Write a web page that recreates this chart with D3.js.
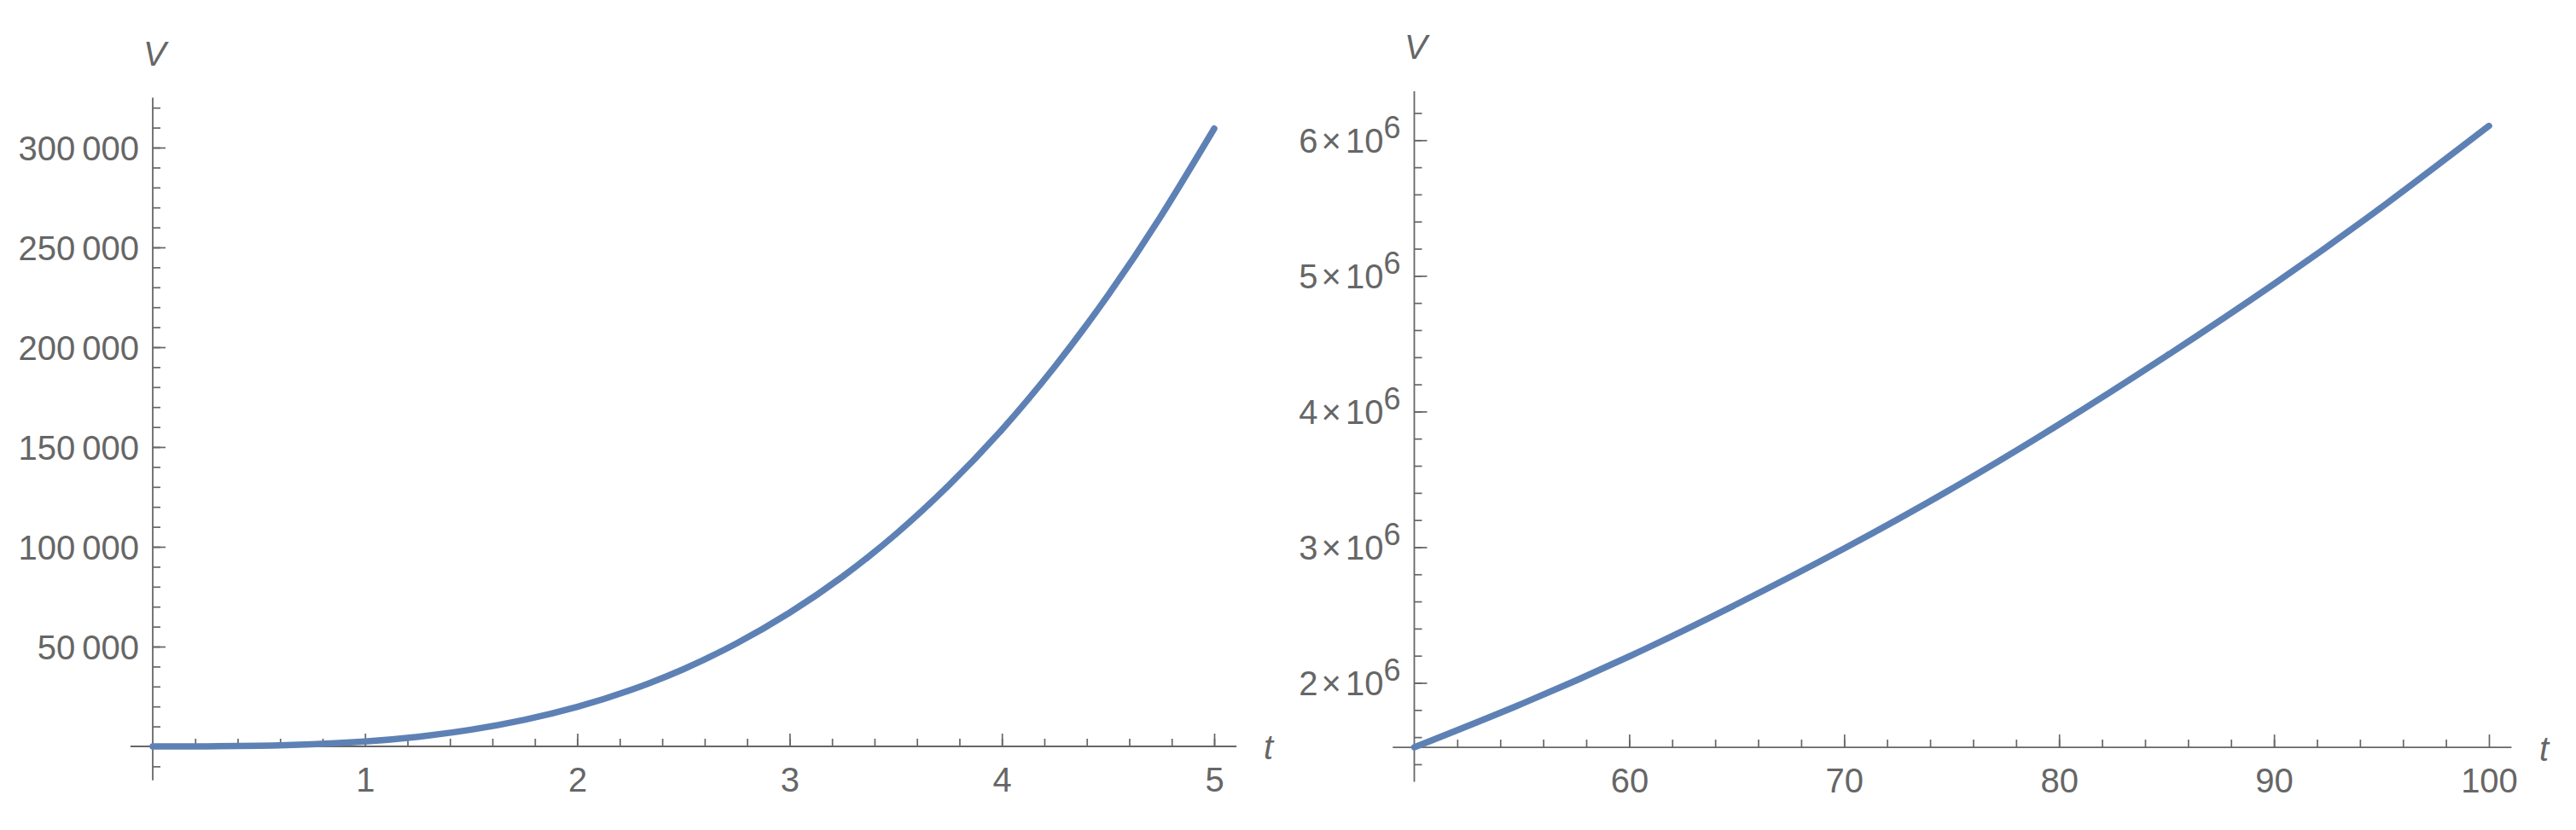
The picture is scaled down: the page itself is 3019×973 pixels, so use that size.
<!DOCTYPE html>
<html>
<head>
<meta charset="utf-8">
<script src="https://cdn.jsdelivr.net/npm/d3@7"></script>
<style>
  body { margin: 0; background: #ffffff; }
  text { font-family: "Liberation Sans", Arial, sans-serif; fill: #666666; }
</style>
</head>
<body>
<div class="chart"></div>
<script>
	// data: left panel (t from 0 to 5)
	var leftT = [0, 0.25, 0.5, 0.75, 1, 1.25, 1.5, 1.75, 2, 2.25, 2.5, 2.75, 3, 3.25, 3.5, 3.75, 4, 4.25, 4.5, 4.75, 5];
	var leftV = [0, 40, 310, 1050, 2480, 4840, 8370, 13300, 19800, 28200, 38700, 51600, 67000, 85100, 106300, 130800, 158700, 190400, 226000, 265800, 309500];

	// right panel (t from 50 to 100)
	var rightT = [50, 55, 60, 65, 70, 75, 80, 85, 90, 95, 100];
	var rightV = [1.525e6, 1.845e6, 2.195e6, 2.58e6, 2.99e6, 3.43e6, 3.905e6, 4.41e6, 4.94e6, 5.505e6, 6.105e6];

	// tick labels
	var leftXTicks = [1, 2, 3, 4, 5];
	var leftYTicks = [50000, 100000, 150000, 200000, 250000, 300000];
	var rightXTicks = [60, 70, 80, 90, 100];
	var rightYTicks = [2e6, 3e6, 4e6, 5e6, 6e6];

	var width = 3019, height = 973;
	var gray = "#666666", lineColor = "#5E81B5";

	var svg = d3.select(".chart")
		.append("svg")
			.attr("width", width)
			.attr("height", height);

	function panel(opt) {
		var x = d3.scaleLinear().domain(opt.xDomain).range(opt.xRange);
		var y = d3.scaleLinear().domain(opt.yDomain).range(opt.yRange);
		var x0 = x(opt.xDomain[0]), y0 = y(opt.yOrigin);

		var g = svg.append("g");

		// axis lines (run a bit past the data, as in the picture)
		g.append("line")
			.attr("x1", x(opt.xExtent[0])).attr("x2", x(opt.xExtent[1]))
			.attr("y1", y0).attr("y2", y0)
			.attr("stroke", gray).attr("stroke-width", 1.8);
		g.append("line")
			.attr("x1", x0).attr("x2", x0)
			.attr("y1", y(opt.yExtent[0])).attr("y2", y(opt.yExtent[1]))
			.attr("stroke", gray).attr("stroke-width", 1.8);

		// minor ticks
		g.append("g")
			.attr("transform", "translate(0," + y0 + ")")
			.call(d3.axisBottom(x).tickValues(opt.xMinor).tickSize(-9).tickFormat(""))
			.call(function(a) { a.select(".domain").remove(); });
		g.append("g")
			.attr("transform", "translate(" + x0 + ",0)")
			.call(d3.axisLeft(y).tickValues(opt.yMinor).tickSize(-9).tickFormat(""))
			.call(function(a) { a.select(".domain").remove(); });

		// major ticks + labels
		var xa = g.append("g")
			.attr("transform", "translate(0," + y0 + ")")
			.call(d3.axisBottom(x).tickValues(opt.xTicks).tickSize(-15).tickPadding(25)
				.tickFormat(function(d) { return d; }))
			.call(function(a) { a.select(".domain").remove(); });
		var ya = g.append("g")
			.attr("transform", "translate(" + x0 + ",0)")
			.call(d3.axisLeft(y).tickValues(opt.yTicks).tickSize(-15).tickPadding(16)
				.tickFormat(opt.yFormat))
			.call(function(a) { a.select(".domain").remove(); });

		g.selectAll(".tick line").attr("stroke", gray).attr("stroke-width", 1.7);
		g.selectAll(".tick text")
			.attr("font-family", "Liberation Sans, Arial, sans-serif")
			.attr("font-size", 40)
			.attr("fill", gray);
		ya.selectAll(".tick text").attr("dy", "0.36em");

		if (opt.sci) {
			ya.selectAll(".tick text").each(function(d) {
				var t = d3.select(this).text("");
				t.append("tspan").text(d / 1e6);
				t.append("tspan").attr("dx", 4).text("\u00D7");
				t.append("tspan").attr("dx", 5).text("10");
				t.append("tspan").attr("dy", -17).attr("font-size", 36).text("6");
			});
		}

		// axis names
		g.append("text")
			.attr("x", opt.vPos[0]).attr("y", opt.vPos[1])
			.attr("font-size", 40).attr("font-style", "italic")
			.text("V");
		g.append("text")
			.attr("x", opt.tPos[0]).attr("y", opt.tPos[1])
			.attr("font-size", 40).attr("font-style", "italic")
			.text("t");

		// curve
		var line = d3.line()
			.x(function(d) { return x(d[0]); })
			.y(function(d) { return y(d[1]); })
			.curve(d3.curveNatural);
		g.append("path")
			.datum(d3.zip(opt.t, opt.v))
			.attr("fill", "none")
			.attr("stroke", lineColor)
			.attr("stroke-width", 7.5)
			.attr("stroke-linecap", "round")
			.attr("d", line);
	}

	// left plot
	panel({
		t: leftT, v: leftV,
		xDomain: [0, 5], xRange: [179, 1423],
		yDomain: [0, 300000], yRange: [875, 173],
		yOrigin: 0,
		xExtent: [-0.105, 5.105], yExtent: [-17000, 325000],
		xTicks: leftXTicks, yTicks: leftYTicks,
		xMinor: d3.range(0.2, 5.01, 0.2),
		yMinor: d3.range(-10000, 320001, 10000),
		yFormat: function(d) { var s = String(d); return s.slice(0, s.length - 3) + "\u2009" + s.slice(-3); },
		vPos: [168, 77], tPos: [1481, 890]
	});

	// right plot
	panel({
		t: rightT, v: rightV,
		xDomain: [50, 100], xRange: [1657.5, 2917],
		yDomain: [2e6, 6e6], yRange: [800.5, 164.3],
		yOrigin: rightV[0],
		xExtent: [49, 101.05], yExtent: [1.27e6, 6.36e6],
		xTicks: rightXTicks, yTicks: rightYTicks,
		xMinor: d3.range(52, 99, 2),
		yMinor: d3.range(1.4e6, 6.21e6, 0.2e6),
		yFormat: function(d) { return d; },
		sci: true,
		vPos: [1646, 69], tPos: [2976, 892]
	});
</script>
</body>
</html>
